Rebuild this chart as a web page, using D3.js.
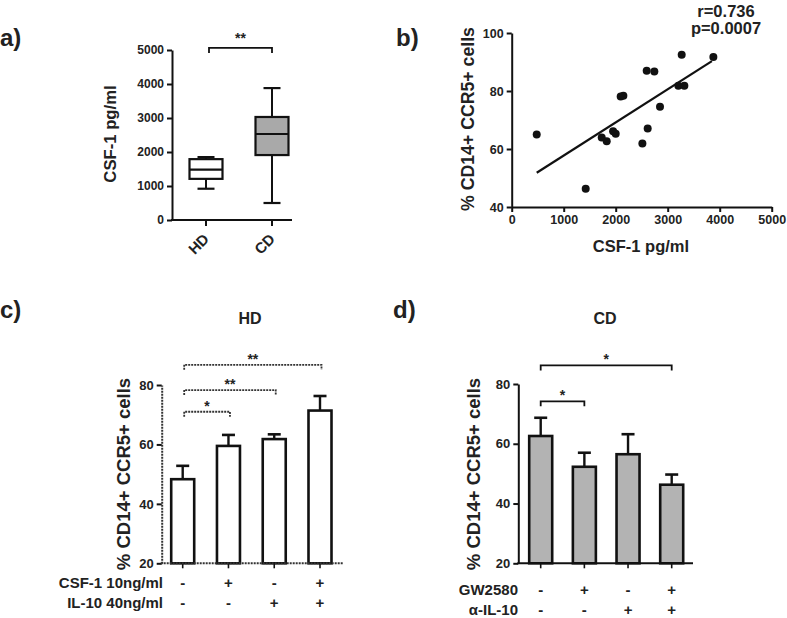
<!DOCTYPE html>
<html><head><meta charset="utf-8">
<script src="https://cdn.jsdelivr.net/npm/d3@7/dist/d3.min.js"></script>
<style>
body{margin:0;background:#fff}
svg text{font-family:"Liberation Sans",Arial,Helvetica,sans-serif;font-weight:bold;fill:#222}
</style>
</head><body>
<svg id="chart" width="787" height="618"></svg>
<script>
// ---------- DATA ----------
// Panel a: box plot
const boxGroups = ["HD", "CD"];
const boxMin    = [920, 500];
const boxQ1     = [1210, 1910];
const boxMedian = [1480, 2530];
const boxQ3     = [1790, 3030];
const boxMax    = [1850, 3880];
const csfTicks  = [0, 1000, 2000, 3000, 4000, 5000];
const sigA      = {from: "HD", to: "CD", label: "**", level: 5060};

// Panel b: scatter
const scatterX = [481, 1423, 1731, 1827, 1950, 2000, 2096, 2147, 2513, 2596, 2615, 2743, 2852, 3205, 3269, 3320, 3878];
const scatterY = [65.0, 46.3, 64.0, 62.7, 66.1, 65.3, 78.1, 78.4, 61.9, 87.0, 67.1, 86.7, 74.6, 81.8, 92.5, 81.8, 91.7];
const fitX = [481, 3850];
const fitY = [51.8, 90.3];
const bXTicks = [0, 1000, 2000, 3000, 4000, 5000];
const bYTicks = [40, 60, 80, 100];
const statsText = ["r=0.736", "p=0.0007"];

// Panel c: HD bars
const conditions = ["c1", "c2", "c3", "c4"];
const hdMean = [48.3, 59.5, 61.8, 71.4];
const hdSem  = [4.5, 3.7, 1.6, 4.9];
const hdRow1 = ["-", "+", "-", "+"];
const hdRow2 = ["-", "-", "+", "+"];
const hdRowLabels = ["CSF-1 10ng/ml", "IL-10 40ng/ml"];
const hdSig = [
  {from: 0, to: 1, label: "*",  level: 71.0},
  {from: 0, to: 2, label: "**", level: 78.3},
  {from: 0, to: 3, label: "**", level: 86.8}
];

// Panel d: CD bars
const cdMean = [62.6, 52.3, 56.5, 46.3];
const cdSem  = [6.1, 4.7, 6.7, 3.4];
const cdRow1 = ["-", "+", "-", "+"];
const cdRow2 = ["-", "-", "+", "+"];
const cdRowLabels = ["GW2580", "\u03B1-IL-10"];
const cdSig = [
  {from: 0, to: 1, label: "*", level: 74.2},
  {from: 0, to: 3, label: "*", level: 86.2}
];
const barYTicks = [20, 40, 60, 80];

// ---------- DRAW ----------
const svg = d3.select("#chart");
const FONT = '"Liberation Sans", Arial, Helvetica, sans-serif';
const INK = "#111";
const DASHCOL = "#333";
const fmt = d3.format("d");

function styleAxis(g, size, dash) {
  g.attr("font-family", FONT).attr("font-size", size).attr("font-weight", "bold");
  g.selectAll("path.domain").attr("stroke", dash ? DASHCOL : INK).attr("stroke-width", 2)
    .attr("stroke-dasharray", dash ? "2,1" : null);
  g.selectAll(".tick line").attr("stroke", INK).attr("stroke-width", 2);
  g.selectAll(".tick text").attr("fill", "#222");
}
function txt(x, y, s, size, anchor = "middle", rot = 0) {
  const t = svg.append("text").attr("font-size", size).attr("text-anchor", anchor).text(s);
  if (rot) t.attr("transform", `translate(${x},${y}) rotate(${rot})`);
  else t.attr("x", x).attr("y", y);
  return t;
}
function line(x1, y1, x2, y2, w = 2, dash = null, col = INK) {
  svg.append("line").attr("x1", x1).attr("y1", y1).attr("x2", x2).attr("y2", y2)
    .attr("stroke", col).attr("stroke-width", w).attr("stroke-dasharray", dash);
}
function bracket(x1, x2, y, dash) {
  svg.append("path").attr("d", `M${x1},${y + 5}V${y}H${x2}V${y + 5}`)
    .attr("fill", "none").attr("stroke", dash ? DASHCOL : INK).attr("stroke-width", 1.8)
    .attr("stroke-dasharray", dash ? "2,1" : null);
}

// Panel labels
txt(0, 46, "a)", 24, "start");
txt(396, 46, "b)", 24, "start");
txt(0, 318, "c)", 24, "start");
txt(393, 318, "d)", 24, "start");

// ===== Panel a =====
{
  const y = d3.scaleLinear().domain([0, 5000]).range([220, 50]);
  const x = d3.scalePoint().domain(boxGroups).range([206, 272]);
  const gy = svg.append("g").attr("transform", "translate(172,0)")
    .call(d3.axisLeft(y).tickValues(csfTicks).tickFormat(fmt).tickSize(5).tickSizeOuter(0));
  styleAxis(gy, 12);
  line(171, y(0), 292, y(0), 2.2);
  boxGroups.forEach((g, i) => {
    const cx = x(g);
    line(cx, y(0), cx, y(0) + 6, 2);
    txt(cx + 4, y(0) + 20, g, 15, "end", -45);
    line(cx, y(boxMin[i]), cx, y(boxMax[i]), 2);
    line(cx - 8.5, y(boxMin[i]), cx + 8.5, y(boxMin[i]), 2.2);
    line(cx - 8.5, y(boxMax[i]), cx + 8.5, y(boxMax[i]), 2.2);
    svg.append("rect").attr("x", cx - 16.5).attr("y", y(boxQ3[i]))
      .attr("width", 33).attr("height", y(boxQ1[i]) - y(boxQ3[i]))
      .attr("fill", i === 0 ? "#fff" : "#a9a9a9").attr("stroke", INK).attr("stroke-width", 2.2);
    line(cx - 16.5, y(boxMedian[i]), cx + 16.5, y(boxMedian[i]), 2.2);
  });
  txt(116, 134, "CSF-1 pg/ml", 16.7, "middle", -90);
  const bx1 = x(sigA.from) + 3, bx2 = x(sigA.to);
  bracket(bx1, bx2, y(sigA.level), false);
  txt((bx1 + bx2) / 2, 43, sigA.label, 14);
}

// ===== Panel b =====
{
  const x = d3.scaleLinear().domain([0, 5000]).range([511.7, 771.7]);
  const y = d3.scaleLinear().domain([40, 100]).range([207, 33]);
  const gx = svg.append("g").attr("transform", "translate(0,207)")
    .call(d3.axisBottom(x).tickValues(bXTicks).tickFormat(fmt).tickSize(5).tickSizeOuter(0));
  styleAxis(gx, 12.5);
  const gy = svg.append("g").attr("transform", "translate(511.7,0)")
    .call(d3.axisLeft(y).tickValues(bYTicks).tickFormat(fmt).tickSize(5).tickSizeOuter(0));
  styleAxis(gy, 12.5);
  svg.append("line").attr("x1", x(fitX[0])).attr("y1", y(fitY[0]))
    .attr("x2", x(fitX[1])).attr("y2", y(fitY[1])).attr("stroke", INK).attr("stroke-width", 2.2);
  svg.selectAll("circle.pt").data(scatterX).enter().append("circle").attr("class", "pt")
    .attr("cx", d => x(d)).attr("cy", (d, i) => y(scatterY[i])).attr("r", 4).attr("fill", INK);
  txt(641, 252, "CSF-1 pg/ml", 16.5);
  txt(474, 119, "% CD14+ CCR5+ cells", 17.7, "middle", -90);
  txt(726, 17, statsText[0], 16.5);
  txt(726, 34, statsText[1], 16.5);
}

// ===== Bar panels =====
function barPanel(opt) {
  const y = d3.scaleLinear().domain([20, 80]).range([563.3, opt.yTop]);
  const x = d3.scalePoint().domain(conditions).range(opt.xr);
  const gy = svg.append("g").attr("transform", `translate(${opt.ax},0)`)
    .call(d3.axisLeft(y).tickValues(barYTicks).tickFormat(fmt).tickSize(5).tickSizeOuter(0));
  styleAxis(gy, 13, opt.dash);
  const bw = 23;
  conditions.forEach((c, i) => {
    const cx = x(c);
    line(cx, y(opt.mean[i]), cx, y(opt.mean[i] + opt.sem[i]), 2.4);
    line(cx - 6.5, y(opt.mean[i] + opt.sem[i]), cx + 6.5, y(opt.mean[i] + opt.sem[i]), 2.6);
    svg.append("rect").attr("x", cx - bw / 2).attr("y", y(opt.mean[i]))
      .attr("width", bw).attr("height", y(20) - y(opt.mean[i]))
      .attr("fill", opt.fill).attr("stroke", INK).attr("stroke-width", 2.6);
    line(cx, y(20), cx, y(20) + 5, 1.6);
    txt(cx, opt.rowY[0], opt.row1[i], 15);
    txt(cx, opt.rowY[1], opt.row2[i], 15);
  });
  line(opt.ax - 1, y(20), opt.axEnd, y(20), 2, opt.dash ? "2,1" : null, opt.dash ? DASHCOL : INK);
  txt(opt.labelX, opt.rowY[0], opt.rowLabels[0], 15, "end");
  txt(opt.labelX, opt.rowY[1], opt.rowLabels[1], 15, "end");
  txt(opt.titleX, 324, opt.title, 16);
  txt(opt.ytX, 474, "% CD14+ CCR5+ cells", 18.5, "middle", -90);
  opt.sig.forEach(s => {
    const x1 = x(conditions[s.from]) + opt.bOff, x2 = x(conditions[s.to]) + opt.bOff;
    const by = y(s.level);
    bracket(x1, x2, by, opt.dash);
    txt((x1 + x2) / 2, by - 1, s.label, 14);
  });
}

barPanel({
  yTop: 385, xr: [182.7, 320], ax: 161.7, axEnd: 343, dash: true, fill: "#fff",
  mean: hdMean, sem: hdSem, row1: hdRow1, row2: hdRow2, rowLabels: hdRowLabels,
  rowY: [588, 608], labelX: 163, title: "HD", titleX: 250, ytX: 130, sig: hdSig, bOff: 1.5
});
barPanel({
  yTop: 384, xr: [540.7, 671.7], ax: 518.3, axEnd: 693, dash: false, fill: "#b3b3b3",
  mean: cdMean, sem: cdSem, row1: cdRow1, row2: cdRow2, rowLabels: cdRowLabels,
  rowY: [594.5, 614.5], labelX: 518, title: "CD", titleX: 605, ytX: 480, sig: cdSig, bOff: 0
});
</script>
</body></html>
